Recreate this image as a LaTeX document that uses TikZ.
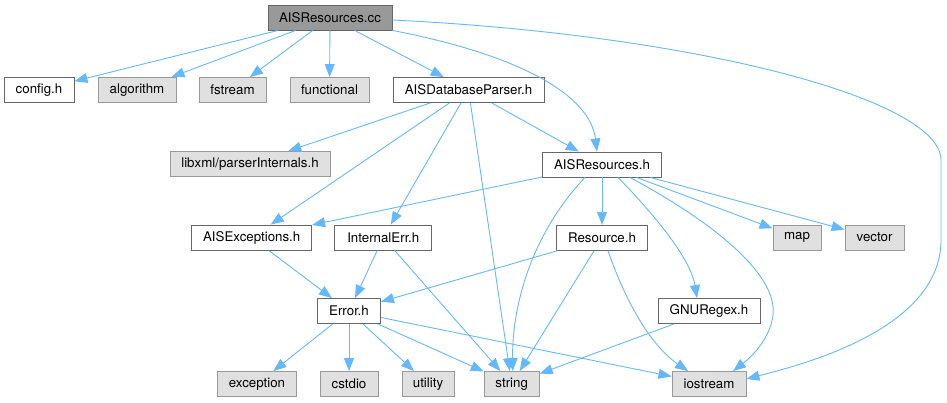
\documentclass[tikz,border=0pt]{standalone}
\usepackage{fontspec}
\setmainfont{TeX Gyre Heros}
\usetikzlibrary{arrows.meta}
\definecolor{edgecol}{HTML}{63B8FF}
\definecolor{boxborder}{HTML}{666666}
\definecolor{sysfill}{HTML}{E0E0E0}
\definecolor{sysborder}{HTML}{999999}
\definecolor{mainfill}{HTML}{999999}
\begin{document}
\begin{tikzpicture}[x=1pt,y=-1pt,
  box/.style={draw=boxborder, fill=white, minimum height=25pt, inner sep=0pt, line width=0.9pt, font=\fontsize{13.3}{15}\selectfont},
  sys/.style={box, fill=sysfill, draw=sysborder},
  mainbox/.style={box, fill=mainfill, draw=boxborder},
  edge/.style={draw=edgecol, line width=0.9pt, -{Triangle[length=13pt,width=10pt]}}]
\useasboundingbox (0,0) rectangle (947,403);
% nodes
\node[mainbox, minimum width=124pt] (cc) at (330,17.5) {AISResources.cc};
\node[box, minimum width=70pt] (cfg) at (39,90) {config.h};
\node[sys, minimum width=78pt] (alg) at (137,90) {algorithm};
\node[sys, minimum width=67pt] (fst) at (232.5,90) {fstream};
\node[sys, minimum width=79pt] (fun) at (329.5,90) {functional};
\node[box, minimum width=151pt] (dbp) at (468.5,90) {AISDatabaseParser.h};
\node[sys, minimum width=160pt] (lxml) at (250,164) {libxml/parserInternals.h};
\node[box, minimum width=119pt] (ah) at (602,164.5) {AISResources.h};
\node[box, minimum width=120pt] (aex) at (251.7,237.5) {AISExceptions.h};
\node[box, minimum width=97pt] (ierr) at (383.3,237.5) {InternalErr.h};
\node[box, minimum width=91pt] (res) at (602,237.8) {Resource.h};
\node[sys, minimum width=48pt] (map) at (797,237.5) {map};
\node[sys, minimum width=59pt] (vec) at (874.5,237.5) {vector};
\node[box, minimum width=102pt] (gnu) at (709,311) {GNURegex.h};
\node[box, minimum width=63pt] (err) at (349,311) {Error.h};
\node[sys, minimum width=79pt] (exc) at (257,384) {exception};
\node[sys, minimum width=58pt] (cst) at (349,384) {cstdio};
\node[sys, minimum width=52pt] (uti) at (428,384) {utility};
\node[sys, minimum width=55pt] (str) at (511.7,384) {string};
\node[sys, minimum width=74pt] (io) at (709,384) {iostream};
% edges from AISResources.cc
\draw[edge] (cc) -- (cfg);
\draw[edge] (cc) -- (alg);
\draw[edge] (cc) -- (fst);
\draw[edge] (cc) -- (fun);
\draw[edge] (cc) -- (dbp);
\draw[edge] (cc.south east) .. controls (520,55) and (590,95) .. ([xshift=-5pt]ah.north);
\draw[edge] ([yshift=-2.5pt]cc.east) .. controls (700,35) and (941,100) .. (941,160) -- (941,240) .. controls (941,330) and (800,365) .. ([yshift=5pt]io.east);
% edges from AISDatabaseParser.h
\draw[edge] (dbp) -- (lxml);
\draw[edge] (dbp) -- (aex);
\draw[edge] (dbp) -- (ierr);
\draw[edge] (dbp) -- (str);
\draw[edge] (dbp) -- (ah);
% edges from AISResources.h
\draw[edge] (ah) -- (aex);
\draw[edge] ([xshift=-17pt]ah.south) .. controls (535,230) and (512,300) .. ([xshift=1pt]str.north);
\draw[edge] (ah) -- (res);
\draw[edge] ([xshift=16pt]ah.south) .. controls (645,205) and (690,255) .. ([xshift=-12pt]gnu.north);
\draw[edge] ([xshift=28pt]ah.south) .. controls (700,215) and (778,270) .. (773,315) .. controls (770,340) and (750,358) .. ([xshift=24pt]io.north);
\draw[edge] (ah) -- (map);
\draw[edge] (ah) -- (vec);
% others
\draw[edge] (aex) -- (err);
\draw[edge] (ierr) -- (err);
\draw[edge] (ierr) -- (str);
\draw[edge] (res) -- (err);
\draw[edge] (res) -- (str);
\draw[edge] ([xshift=6pt]res.south) .. controls (625,300) and (650,345) .. ([xshift=-21pt]io.north);
\draw[edge] (gnu) -- (str);
\draw[edge] (err) -- (exc);
\draw[edge] (err) -- (cst);
\draw[edge] (err) -- (uti);
\draw[edge] (err) -- (str);
\draw[edge] (err) -- (io);
\end{tikzpicture}
\end{document}
